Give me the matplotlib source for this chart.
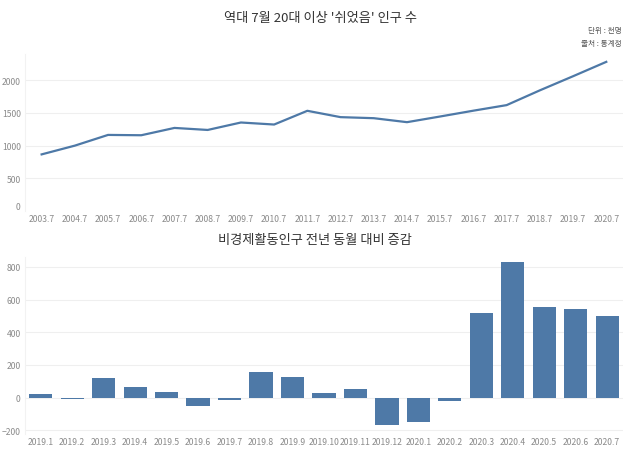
import matplotlib.pyplot as plt

plt.rcParams['font.family'] = ['Noto Sans CJK KR', 'DejaVu Sans']

# 7월 20대 이상 '쉬었음' 인구 (천명)
years = ["2003.7", "2004.7", "2005.7", "2006.7", "2007.7", "2008.7", "2009.7",
         "2010.7", "2011.7", "2012.7", "2013.7", "2014.7", "2015.7", "2016.7",
         "2017.7", "2018.7", "2019.7", "2020.7"]
rest_pop = [866, 1000, 1164, 1159, 1271, 1240, 1354, 1323, 1533, 1436, 1420,
            1359, 1446, 1535, 1620, 1846, 2062, 2282]

# 비경제활동인구 전년 동월 대비 증감
months = ["2019.1", "2019.2", "2019.3", "2019.4", "2019.5", "2019.6", "2019.7",
          "2019.8", "2019.9", "2019.10", "2019.11", "2019.12", "2020.1",
          "2020.2", "2020.3", "2020.4", "2020.5", "2020.6", "2020.7"]
yoy_change = [22, -10, 120, 67, 37, -51, -16, 156, 128, 30, 53, -166, -150,
              -24, 516, 828, 552, 540, 501]

BLUE = "#4e79a7"
GREY = "#8a8a8a"
GRID = "#efefef"


def style_axes(ax):
    for s in ax.spines.values():
        s.set_visible(False)
    ax.spines["left"].set_visible(True)
    ax.spines["left"].set_color("#f2f2f2")
    ax.spines["left"].set_linewidth(0.8)
    ax.tick_params(length=0, labelsize=6.2, labelcolor=GREY)
    ax.tick_params(axis="y", pad=3)
    ax.tick_params(axis="x", pad=2.5)
    ax.grid(axis="y", color=GRID, linewidth=0.8)
    ax.set_axisbelow(True)


fig = plt.figure(figsize=(6.3, 4.52), dpi=100)

ax1 = fig.add_axes([0.0397, 0.531, 0.949, 0.347])
ax1.plot(range(len(years)), rest_pop, color=BLUE, linewidth=1.6)
ax1.set_xticks(range(len(years)))
ax1.set_xticklabels(years)
ax1.set_yticks([0, 500, 1000, 1500, 2000])
ax1.set_xlim(-0.5, len(years) - 0.5)
ax1.set_ylim(0, 2400)
style_axes(ax1)
ax1.yaxis.get_gridlines()[0].set_visible(False)
ax1.get_yticklabels()[0].set_va("bottom")

fig.text(0.508, 0.96, "역대 7월 20대 이상 '쉬었음' 인구 수", ha="center", va="center",
         fontsize=9.5, color="#333333")
fig.text(0.987, 0.932, "단위 : 천명", ha="right", va="center", fontsize=5.5, color="#555555")
fig.text(0.987, 0.903, "출처 : 통계청", ha="right", va="center", fontsize=5.5, color="#555555")

ax2 = fig.add_axes([0.0397, 0.038, 0.949, 0.391])
ax2.bar(range(len(months)), yoy_change, width=0.74, color=BLUE)
ax2.set_xticks(range(len(months)))
ax2.set_xticklabels(months)
ax2.set_yticks([-200, 0, 200, 400, 600, 800])
ax2.set_xlim(-0.5, len(months) - 0.5)
ax2.set_ylim(-222, 860)
style_axes(ax2)

fig.text(0.5, 0.469, "비경제활동인구 전년 동월 대비 증감", ha="center", va="center",
         fontsize=9.5, color="#333333")

fig.savefig("out.png", dpi=100)
